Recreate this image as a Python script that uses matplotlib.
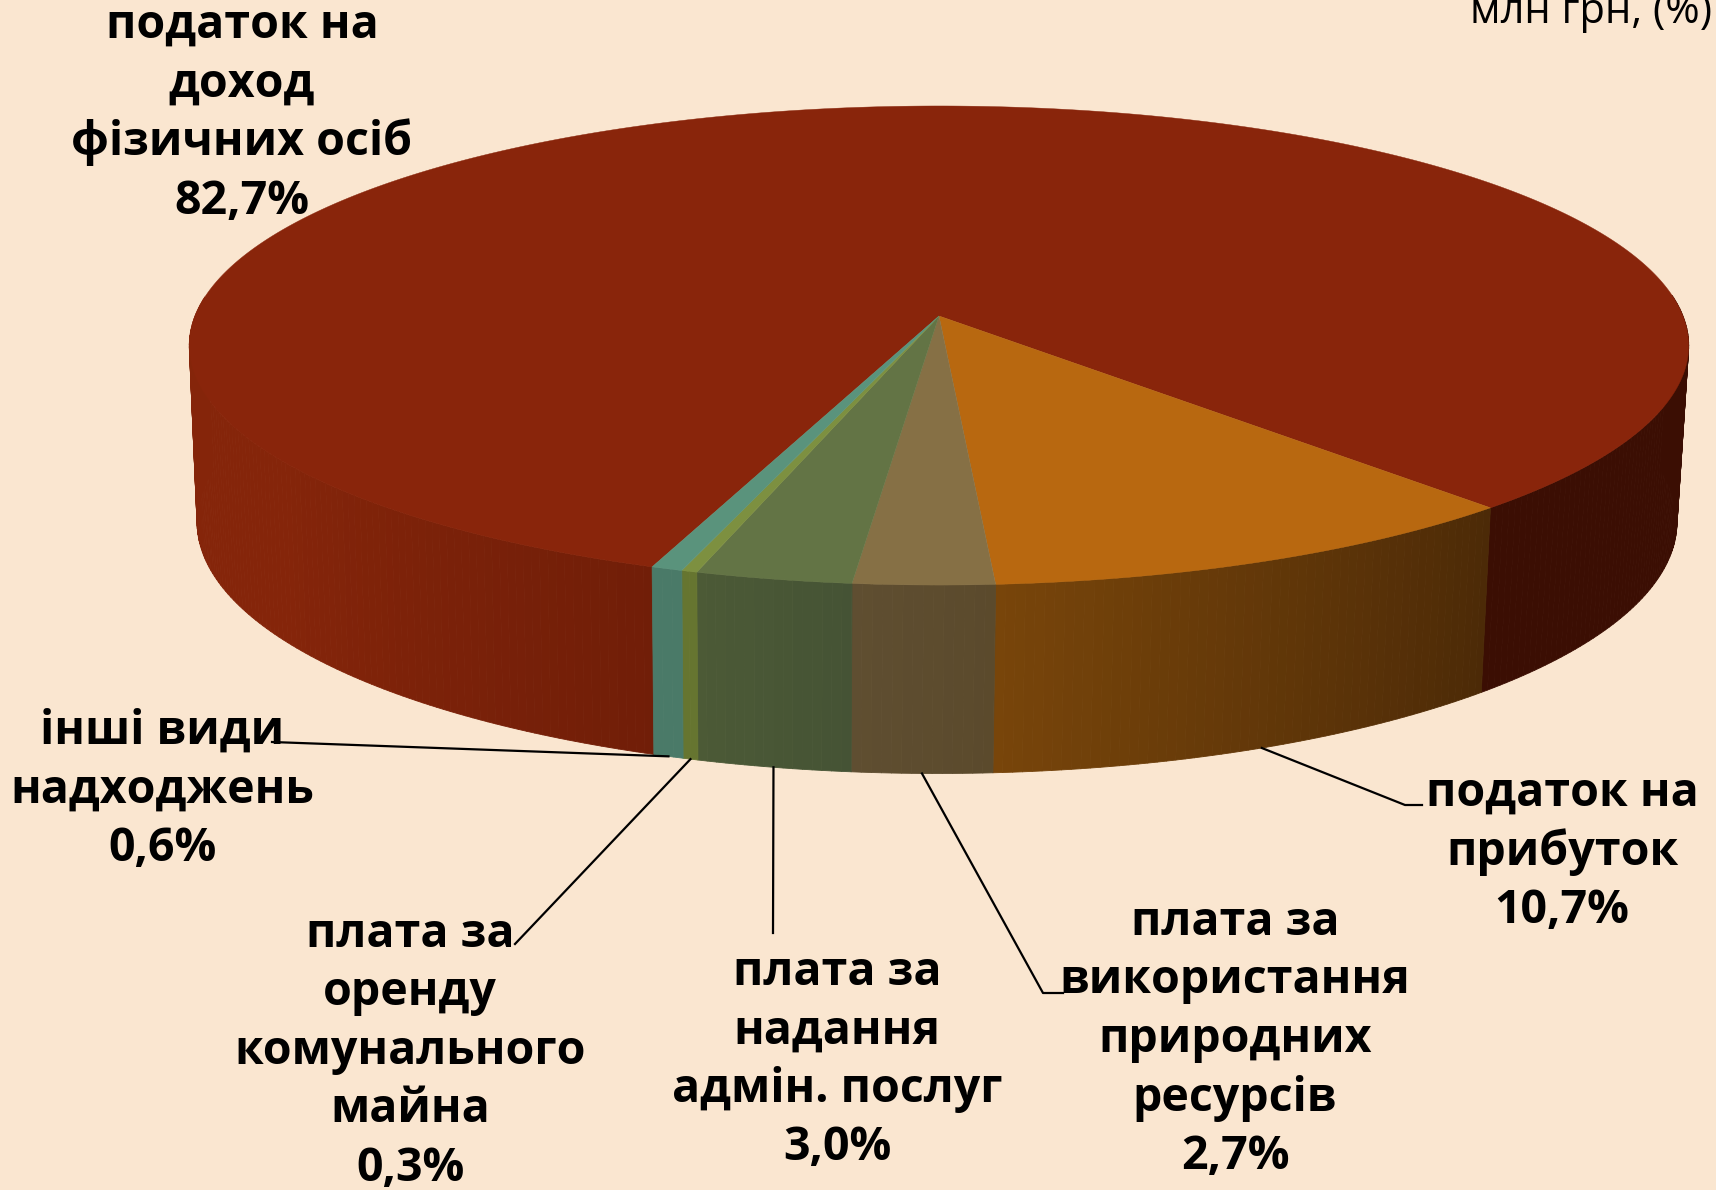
"""structure des recettes - camembert 3D en perspective"""

import numpy as np
import matplotlib
matplotlib.use('Agg')
import matplotlib.pyplot as plt
from matplotlib.collections import PolyCollection

names = ['податок на\nдоход\nфізичних осіб', 'податок на\nприбуток',
         'плата за\nвикористання\nприродних\nресурсів', 'плата за\nнадання\nадмін. послуг',
         'плата за\nоренду\nкомунального\nмайна', 'інші види\nнадходжень']
values = [82.7, 10.7, 2.7, 3.0, 0.3, 0.6]
value_labels = ['82,7%', '10,7%', '2,7%', '3,0%', '0,3%', '0,6%']
unit_label = 'млн грн, (%)'

top_colors = ['#89250B', '#B86810', '#867045', '#637445', '#7D9040', '#5A937C']
# couleurs du flanc : debut et fin de chaque part, sens horaire
wall_colors = [('#711E08', '#85250A'), ('#4C2A07', '#78450A'), ('#5B4A2C', '#5F4E31'),
               ('#455335', '#4C5A36'), ('#667530', '#667530'), ('#4A7A68', '#4A7A68')]
wall_back_right = '#3B0E03'

# position du texte : centre x, ligne de base de la premiere ligne
label_pos = [(242, 38), (1562, 806), (1235, 935), (837, 985), (410, 947), (162, 744)]
line_step = 58.5
# coude puis extremite des lignes de rappel (None = premiere part sans ligne)
leader_ends = [None, [(1405, 805), (1422, 805)], [(1043, 993), (1063, 993)], [(773, 933)],
               [(515, 944)], [(272, 742)]]

start_angle = 137.65  # debut de la part 2, degres horaire depuis le haut

cx, cy, a, b, k = 939, 316, 744, 235.9, 0.1232
cx_bot, cy_bot, sx_bot, sy_bot = 937, 491, 0.987, 1.05


def top_point(theta):
    t = np.radians(theta)
    w = 1 + k * np.cos(t)
    return cx + a * np.sin(t) / w, cy - b * np.cos(t) / w


def bottom_point(theta):
    x, y = top_point(theta)
    return cx_bot + sx_bot * (x - cx), cy_bot + sy_bot * (y - cy)


def mix(c0, c1, f):
    return tuple(np.array(matplotlib.colors.to_rgb(c0)) * (1 - f)
                 + np.array(matplotlib.colors.to_rgb(c1)) * f)


# angles des parts : la part 0 finit la ou la part 1 commence
sweeps = np.array(values) / sum(values) * 360
starts = [start_angle - sweeps[0]]
for s in sweeps[:-1]:
    starts.append(starts[-1] + s)
starts[0] = starts[-1] + sweeps[-1]

fig = plt.figure(figsize=(17.16, 11.9), dpi=100, facecolor='#FAE6D0')
ax = fig.add_axes([0, 0, 1, 1])
ax.set_xlim(0, 1716)
ax.set_ylim(1190, 0)
ax.axis('off')

# flancs
polys, cols = [], []
for i, (st, sw) in enumerate(zip(starts, sweeps)):
    th = np.linspace(st, st + sw, max(int(sw * 1.5), 2) + 1)
    for t0, t1 in zip(th[:-1], th[1:]):
        m = ((t0 + t1) / 2) % 360
        if m < 85 or m > 275:
            continue
        if i == 0:
            if m < 180:
                col = wall_back_right
            else:
                col = mix(wall_colors[0][0], wall_colors[0][1], np.interp(m, [200, 235], [0, 1]))
        else:
            col = mix(wall_colors[i][0], wall_colors[i][1], np.clip((m - st) / sw, 0, 1))
        polys.append([top_point(t0), top_point(t1), bottom_point(t1), bottom_point(t0)])
        cols.append(col)
ax.add_collection(PolyCollection(polys, facecolors=cols, edgecolors=cols, linewidths=0.6, zorder=1))

# dessus
for i, (st, sw) in enumerate(zip(starts, sweeps)):
    th = np.linspace(st, st + sw, max(int(sw * 2), 4))
    xs, ys = top_point(th)
    ax.fill(np.r_[cx, xs], np.r_[cy, ys], color=top_colors[i], lw=0.3, zorder=2)

# lignes de rappel
for i, ends in enumerate(leader_ends):
    if ends is None:
        continue
    x0, y0 = bottom_point(starts[i] + sweeps[i] / 2)
    pts = [(x0, y0)] + ends
    ax.plot([p[0] for p in pts], [p[1] for p in pts], color='black', lw=1.6, zorder=3)

# etiquettes
for name, val, (x, y) in zip(names, value_labels, label_pos):
    lines = name.split('\n') + [val]
    for j, line in enumerate(lines):
        ax.text(x, y + j * line_step, line, ha='center', va='baseline', color='black',
                family='Open Sans', weight='bold', fontsize=33.5, zorder=4)

ax.text(1712, 23, unit_label, ha='right', va='baseline', color='black',
        family='Open Sans', fontsize=30, zorder=4)

fig.savefig('out.png', dpi=100, facecolor=fig.get_facecolor())
